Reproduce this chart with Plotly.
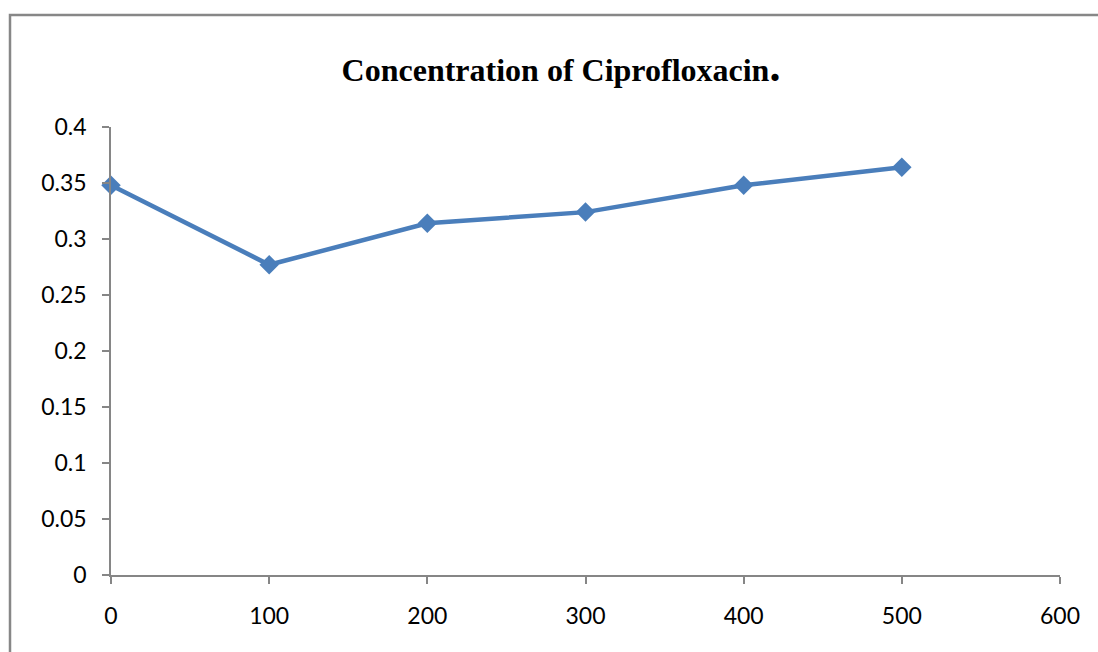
import plotly.graph_objects as go

x_vals = [0, 100, 200, 300, 400, 500]
y_vals = [0.348, 0.277, 0.314, 0.324, 0.348, 0.364]
title_text = "<b>Concentration of Ciprofloxacin</b><b><span style='font-size:44px'>.</span></b>"

L, R, T, B = 111, 38, 127, 77
W, H = 1098, 652
pw, ph = W - L - R, H - T - B

def px_to_paper_x(px):
    return (px - L) / pw

def py_to_paper_y(py):
    return (H - B - py) / ph

fig = go.Figure()
fig.add_trace(go.Scatter(
    x=x_vals, y=y_vals, mode="lines+markers",
    line=dict(color="#4a7ebb", width=4.5),
    marker=dict(symbol="diamond", size=15, color="#4a7ebb"),
    cliponaxis=False, showlegend=False,
))

axis_common = dict(
    showline=True, linecolor="#868686", linewidth=1.5,
    ticks="outside", ticklen=7, tickcolor="#868686", tickwidth=1.5,
    showgrid=False, zeroline=False,
    tickfont=dict(family="Lato, Open Sans, sans-serif", size=23, color="#000000"),
)
fig.update_xaxes(range=[0, 600], dtick=100, tick0=0, ticklabelstandoff=13, **axis_common)
fig.update_yaxes(range=[0, 0.4], dtick=0.05, tick0=0, ticklabelstandoff=11, **axis_common)

fig.add_shape(type="rect", xref="paper", yref="paper",
              x0=px_to_paper_x(10), x1=px_to_paper_x(1110),
              y0=py_to_paper_y(670), y1=py_to_paper_y(15),
              line=dict(color="#878787", width=2.5), fillcolor="rgba(0,0,0,0)", layer="below")

fig.update_layout(
    width=W, height=H,
    margin=dict(l=L, r=R, t=T, b=B),
    paper_bgcolor="white", plot_bgcolor="white",
    title=dict(text=title_text, x=px_to_paper_x(561), xref="paper", xanchor="center",
               y=1 - 70 / H, yanchor="middle",
               font=dict(family="Liberation Serif, Times New Roman, serif", size=32, color="#000000")),
)
fig.write_html("out.html")
